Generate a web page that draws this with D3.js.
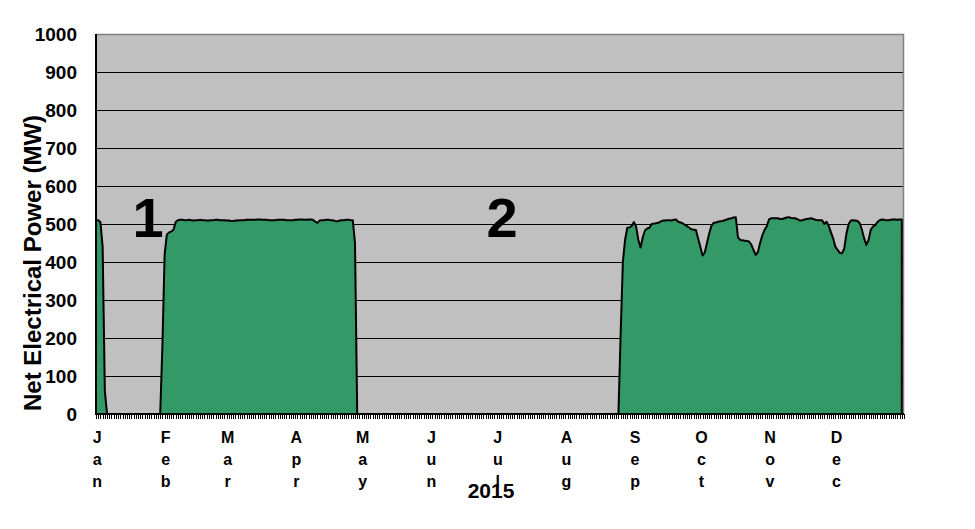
<!DOCTYPE html>
<html><head><meta charset="utf-8">
<script src="https://cdn.jsdelivr.net/npm/d3@7"></script>
<style>
body{margin:0;background:#fff}
svg{display:block}
text{font-family:"Liberation Sans",Arial,sans-serif;font-weight:bold;fill:#000}
</style>
</head><body>
<svg id="chart" width="975" height="529"></svg>
<script>
// ---- data (daily net electrical power, MW, 2015) ----
const monthNames = ["Jan","Feb","Mar","Apr","May","Jun","Jul","Aug","Sep","Oct","Nov","Dec"];
const monthDays  = [31,28,31,30,31,30,31,31,30,31,30,31];

const janMW = [510,510,505,440,60, 0,0,0,0,0,0,0,0,0,0,0,0,0,0,0,0,0,0,0,0,0,0,0,0,0, 180];
const febMW = [420,472,478,480,485,505,510,511,511,510,510,511,510,509,510,510,511,510,510,509,509,510,510,511,511,510,510,510];
const marMW = [509,509,508,508,509,509,510,510,510,511,511,511,511,511,512,512,511,511,511,510,510,510,510,511,511,511,511,510,510,510,510];
const aprMW = [511,511,512,512,511,511,512,512,511,506,503,509,510,510,511,511,510,510,508,507,509,510,510,511,511,510,510,450,0,0];
const mayMW = new Array(31).fill(0);
const junMW = new Array(30).fill(0);
const julMW = new Array(31).fill(0);
const augMW = [0,0,0,0,0,0,0,0,0,0,0,0,0,0,0,0,0,0,0,0,0,0,0,0,0, 210,400,458,490,491,495];
const sepMW = [505,493,458,438,465,483,488,490,500,501,502,503,506,509,509,510,510,509,511,512,506,504,502,498,494,490,486,485,484,462];
const octMW = [440,417,425,450,475,495,503,504,506,507,508,510,512,514,515,517,518,465,458,457,456,455,454,446,432,419,426,450,470,484,494];
const novMW = [512,515,515,515,515,513,513,515,517,518,516,515,515,512,509,510,512,513,514,515,513,511,510,510,510,500,506,495,478,462];
const decMW = [440,432,424,423,435,475,500,509,510,509,508,502,485,462,445,458,485,493,497,505,510,512,511,510,510,511,512,512,511,512,512];

const yTicks = [0,100,200,300,400,500,600,700,800,900,1000];
const yearLabel = "2015";
const yTitle = "Net Electrical Power (MW)";
const notes = [{label:"1", day:23.5, mw:466}, {label:"2", day:183.4, mw:466}];

// ---- build ----
const daily = [].concat(janMW,febMW,marMW,aprMW,mayMW,junMW,julMW,augMW,sepMW,octMW,novMW,decMW);
const series = daily.map((v,i)=>({day:i, mw:v}));
const monthStarts = monthDays.reduce((acc,d,i)=>{acc.push(i===0?0:acc[i-1]+monthDays[i-1]);return acc;},[]);

const L=96, R=904, T=34, B=414;
const svg = d3.select("#chart");
const x = d3.scaleLinear().domain([0,365]).range([L,R]);
const y = d3.scaleLinear().domain([0,1000]).range([B,T]);

// plot background
svg.append("rect").attr("x",L).attr("y",T).attr("width",R-L).attr("height",B-T).attr("fill","#c0c0c0");

// gridlines
svg.append("g").selectAll("line").data(yTicks.filter(t=>t>0 && t<1000)).join("line")
  .attr("x1",L).attr("x2",R).attr("y1",d=>Math.round(y(d))+0.5).attr("y2",d=>Math.round(y(d))+0.5)
  .attr("stroke","#000").attr("stroke-width",1);

// plot border (top/right)
svg.append("path").attr("d",`M${L},${T+0.5}H${R-0.5}V${B}`).attr("fill","none").attr("stroke","#808080").attr("stroke-width",1.5);

// area
const area = d3.area().x(d=>x(d.day)).y0(y(0)).y1(d=>y(d.mw));
svg.append("path").datum(series).attr("d",area)
  .attr("fill","#339966").attr("stroke","#000").attr("stroke-width",2).attr("stroke-linejoin","round");

// axes lines
svg.append("line").attr("x1",L).attr("x2",L).attr("y1",T).attr("y2",B+1).attr("stroke","#000").attr("stroke-width",2);
svg.append("line").attr("x1",L-1).attr("x2",R).attr("y1",B).attr("y2",B).attr("stroke","#000").attr("stroke-width",2);

// daily minor ticks
svg.append("g").selectAll("line").data(d3.range(0,366)).join("line")
  .attr("x1",d=>Math.round(x(d))+0.5).attr("x2",d=>Math.round(x(d))+0.5)
  .attr("y1",B).attr("y2",B+5).attr("stroke","#000").attr("stroke-width",1);

// y tick labels
svg.append("g").selectAll("text").data(yTicks).join("text")
  .attr("x",77).attr("y",d=>y(d)).attr("dy","0.36em").attr("text-anchor","end")
  .style("font-size","19px").text(d=>d);

// y title
svg.append("text").attr("transform",`translate(41,263) rotate(-90)`)
  .attr("text-anchor","middle").style("font-size","24px").text(yTitle);

// month labels (stacked letters)
const mg = svg.append("g");
monthNames.forEach((m,i)=>{
  const cx = x(monthStarts[i]+0.5);
  m.split("").forEach((ch,j)=>{
    mg.append("text").attr("x",cx).attr("y",443+j*22).attr("text-anchor","middle")
      .style("font-size","16px").text(ch);
  });
});

// year label
svg.append("text").attr("x",491).attr("y",498).attr("text-anchor","middle").style("font-size","21px").text(yearLabel);

// annotations
svg.append("g").selectAll("text").data(notes).join("text")
  .attr("x",d=>x(d.day)).attr("y",d=>y(d.mw)).attr("text-anchor","middle")
  .style("font-size","56px").text(d=>d.label);
</script>
</body></html>
